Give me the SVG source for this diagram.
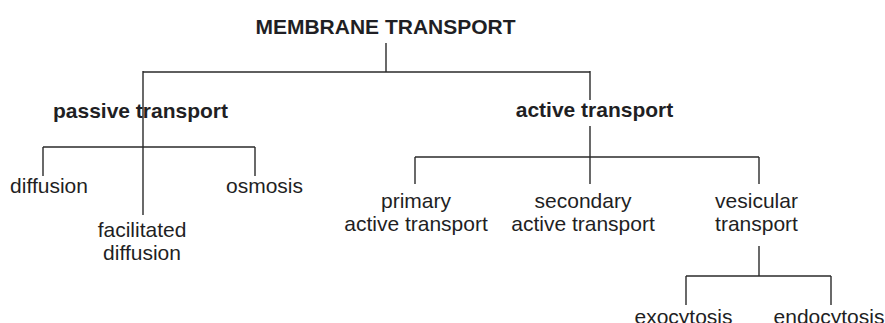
<svg xmlns="http://www.w3.org/2000/svg" width="885" height="323" viewBox="0 0 885 323">
<style>
text{font-family:"Liberation Sans",Arial,sans-serif;fill:#1f1f24;text-anchor:middle}
.b{font-weight:bold;font-size:21px}
.r{font-size:21px}
.c line{stroke:#2a2a2a;stroke-width:1.4}
</style>
<rect width="885" height="323" fill="#fff"/>
<g class="c" id="connectors">
<line x1="386" y1="43" x2="386" y2="72"/>
<line x1="143" y1="72" x2="590" y2="72"/>
<line x1="143" y1="71" x2="143" y2="215"/>
<line x1="590" y1="71" x2="590" y2="100"/>
<line x1="43" y1="147" x2="255" y2="147"/>
<line x1="43" y1="147" x2="43" y2="176"/>
<line x1="255" y1="147" x2="255" y2="176"/>
<line x1="590" y1="126" x2="590" y2="184"/>
<line x1="415" y1="157" x2="759" y2="157"/>
<line x1="415" y1="157" x2="415" y2="184"/>
<line x1="759" y1="157" x2="759" y2="184"/>
<line x1="759" y1="246" x2="759" y2="276"/>
<line x1="686" y1="276" x2="831" y2="276"/>
<line x1="686" y1="276" x2="686" y2="305"/>
<line x1="831" y1="276" x2="831" y2="305"/>
</g>
<g id="membrane-transport"><text class="b" x="385.5" y="34">MEMBRANE TRANSPORT</text></g>
<g id="passive-transport"><text class="b" x="140.5" y="118">passive transport</text></g>
<g id="active-transport"><text class="b" x="594.5" y="117">active transport</text></g>
<g id="diffusion"><text class="r" x="49" y="193">diffusion</text></g>
<g id="osmosis"><text class="r" x="264.5" y="193">osmosis</text></g>
<g id="facilitated-diffusion"><text class="r" x="142" y="237">facilitated</text><text class="r" x="142" y="260">diffusion</text></g>
<g id="primary-active-transport"><text class="r" x="416" y="208">primary</text><text class="r" x="416" y="231">active transport</text></g>
<g id="secondary-active-transport"><text class="r" x="583" y="208">secondary</text><text class="r" x="583" y="231">active transport</text></g>
<g id="vesicular-transport"><text class="r" x="756.5" y="208">vesicular</text><text class="r" x="756.5" y="231">transport</text></g>
<g id="exocytosis"><text class="r" x="683.5" y="324">exocytosis</text></g>
<g id="endocytosis"><text class="r" x="829" y="324">endocytosis</text></g>
</svg>
